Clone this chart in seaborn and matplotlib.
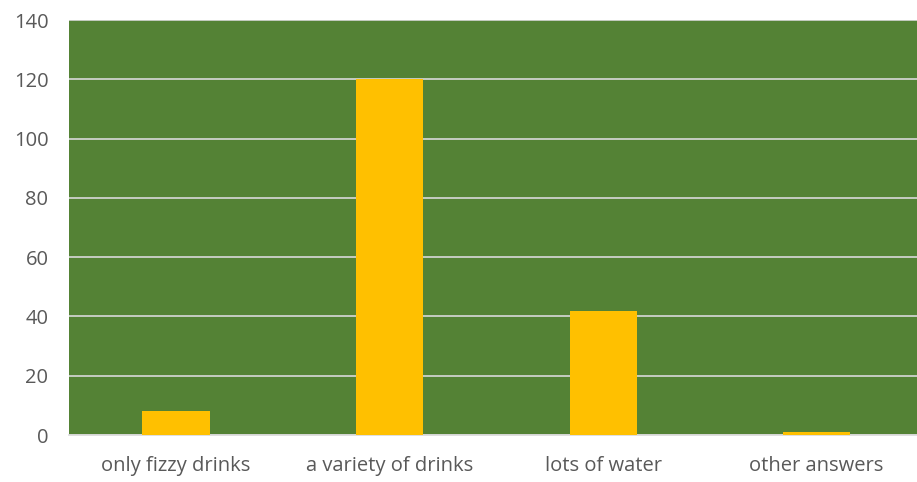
# Bar chart: drink answers
import seaborn as sns
import matplotlib.pyplot as plt
import pandas as pd

categories = ["only fizzy drinks", "a variety of drinks", "lots of water", "other answers"]
counts = [8, 120, 42, 1]

df = pd.DataFrame({"answer": categories, "count": counts})

sns.set_theme(style="white")
plt.rcParams["font.family"] = ["Open Sans", "DejaVu Sans"]

fig = plt.figure(figsize=(9.17, 4.82), dpi=100)
ax = fig.add_axes([0.0755, 0.0975, 0.9315, 0.861])
ax.set_facecolor("#548235")

sns.barplot(data=df, x="answer", y="count", color="#FFC000",
            saturation=1, width=0.314, linewidth=0, ax=ax, zorder=3)

ax.set_ylim(0, 140)
ax.set_yticks(range(0, 141, 20))
ax.set_xlim(-0.5, 3.5)
ax.grid(axis="y", color="#D9D9D9", linewidth=1.2, zorder=1)
ax.set_axisbelow(True)

ax.set_xlabel("")
ax.set_ylabel("")
ax.tick_params(axis="both", labelsize=14.5, labelcolor="#595959", length=0)
ax.tick_params(axis="y", pad=15)
ax.tick_params(axis="x", pad=15)

for side in ["top", "right", "left"]:
    ax.spines[side].set_visible(False)
ax.spines["bottom"].set_color("#D9D9D9")
ax.spines["bottom"].set_linewidth(1.2)

fig.savefig("out.png", dpi=100)
